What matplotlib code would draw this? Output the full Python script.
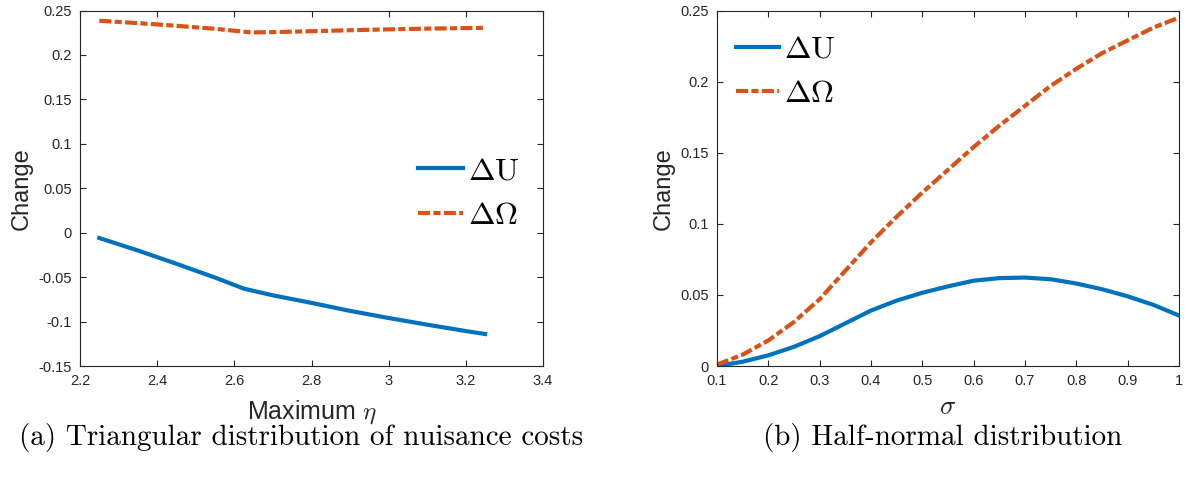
import matplotlib
matplotlib.use('Agg')
import matplotlib.pyplot as plt
from matplotlib.ticker import FixedLocator, FixedFormatter

# (a) triangular distribution of nuisance costs
eta_u = [2.25, 2.35, 2.45, 2.55, 2.625, 2.7, 2.8, 2.9, 3.0, 3.1, 3.2, 3.25]
du_tri = [-0.006, -0.020, -0.035, -0.0505, -0.063, -0.0705, -0.079,
          -0.088, -0.096, -0.1035, -0.1107, -0.114]
eta_o = [2.25, 2.35, 2.45, 2.55, 2.645, 2.7, 2.8, 2.9, 3.0, 3.1, 3.2, 3.25]
do_tri = [0.2385, 0.2358, 0.2328, 0.2294, 0.2253, 0.2257, 0.2267, 0.2278,
          0.2288, 0.2296, 0.2302, 0.2305]

# (b) half-normal distribution
sigma = [0.1, 0.15, 0.2, 0.25, 0.3, 0.35, 0.4, 0.45, 0.5, 0.55, 0.6, 0.65,
         0.7, 0.75, 0.8, 0.85, 0.9, 0.95, 1.0]
du_hn = [0.0, 0.003, 0.0075, 0.0135, 0.021, 0.030, 0.039, 0.046, 0.0515, 0.056,
         0.060, 0.0618, 0.0622, 0.061, 0.058, 0.054, 0.049, 0.043, 0.0355]
do_hn = [0.001, 0.008, 0.018, 0.031, 0.047, 0.067, 0.087, 0.105, 0.122, 0.138,
         0.154, 0.169, 0.183, 0.197, 0.209, 0.220, 0.229, 0.238, 0.245]

xt_a = [2.2, 2.4, 2.6, 2.8, 3.0, 3.2, 3.4]
xl_a = ['2.2', '2.4', '2.6', '2.8', '3', '3.2', '3.4']
yt_a = [-0.15, -0.1, -0.05, 0, 0.05, 0.1, 0.15, 0.2, 0.25]
yl_a = ['-0.15', '-0.1', '-0.05', '0', '0.05', '0.1', '0.15', '0.2', '0.25']
xt_b = [0.1, 0.2, 0.3, 0.4, 0.5, 0.6, 0.7, 0.8, 0.9, 1.0]
xl_b = ['0.1', '0.2', '0.3', '0.4', '0.5', '0.6', '0.7', '0.8', '0.9', '1']
yt_b = [0, 0.05, 0.1, 0.15, 0.2, 0.25]
yl_b = ['0', '0.05', '0.1', '0.15', '0.2', '0.25']

plt.rcParams['font.family'] = ['Liberation Sans', 'DejaVu Sans']
plt.rcParams['mathtext.fontset'] = 'cm'
plt.rcParams['axes.unicode_minus'] = False

BLUE = '#0072BD'
ORANGE = '#D95319'
GREY = '#262626'
LW = 3.0
DASH = (0, (2.9, 0.8, 1.7, 0.8))

fig = plt.figure(figsize=(11.88, 4.78), dpi=100)
ax1 = fig.add_axes([80 / 1188, 112 / 478, 463 / 1188, 355.5 / 478])
ax2 = fig.add_axes([717 / 1188, 112 / 478, 462 / 1188, 355.5 / 478])


def style_axes(ax, xt, xl, yt, yl):
    ax.xaxis.set_major_locator(FixedLocator(xt))
    ax.xaxis.set_major_formatter(FixedFormatter(xl))
    ax.yaxis.set_major_locator(FixedLocator(yt))
    ax.yaxis.set_major_formatter(FixedFormatter(yl))
    ax.set_xlim(xt[0], xt[-1])
    ax.set_ylim(yt[0], yt[-1])
    ax.tick_params(direction='in', length=4, width=0.8, colors=GREY,
                   labelsize=10.5, top=True, right=True, pad=6)
    for s in ax.spines.values():
        s.set_color(GREY)
        s.set_linewidth(0.8)
    ax.set_ylabel('Change', fontsize=17, color=GREY, labelpad=4)


# left panel
ax1.plot(eta_u, du_tri, color=BLUE, lw=LW, label=r'$\Delta\mathrm{U}$')
ax1.plot(eta_o, do_tri, color=ORANGE, lw=LW, linestyle=DASH,
         dash_capstyle='butt', label=r'$\Delta\Omega$')
style_axes(ax1, xt_a, xl_a, yt_a, yl_a)
ax1.set_xlabel(r'Maximum $\eta$', fontsize=18, color=GREY, labelpad=7)
ax1.legend(loc='center right', bbox_to_anchor=(0.99, 0.485), frameon=False,
           fontsize=23, handlelength=1.4, handletextpad=0.15,
           labelspacing=0.45, borderaxespad=0.2)

# right panel
ax2.plot(sigma, du_hn, color=BLUE, lw=LW, label=r'$\Delta\mathrm{U}$')
ax2.plot(sigma, do_hn, color=ORANGE, lw=LW, linestyle=DASH,
         dash_capstyle='butt', label=r'$\Delta\Omega$')
style_axes(ax2, xt_b, xl_b, yt_b, yl_b)
ax2.set_xlabel(r'$\sigma$', fontsize=19, color=GREY, labelpad=5)
ax2.legend(loc='upper left', bbox_to_anchor=(0.0, 0.985), frameon=False,
           fontsize=23, handlelength=1.35, handletextpad=0.15,
           labelspacing=0.45, borderaxespad=0.2)

fig.text(301 / 1188, 1 - 438 / 478, '(a) Triangular distribution of nuisance costs',
         fontname='cmr10', fontsize=21, ha='center', va='center')
fig.text(943 / 1188, 1 - 438 / 478, '(b) Half-normal distribution',
         fontname='cmr10', fontsize=21, ha='center', va='center')

fig.savefig('out.png', dpi=100)
